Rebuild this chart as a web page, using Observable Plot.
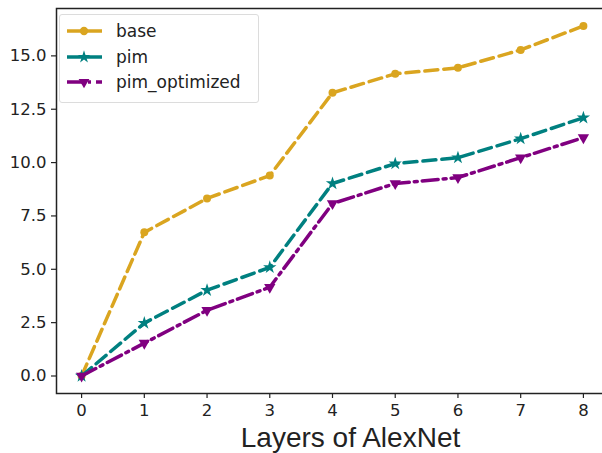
<!DOCTYPE html>
<html>
<head>
<meta charset="utf-8">
<script src="https://cdn.jsdelivr.net/npm/d3@7"></script>
<script src="https://cdn.jsdelivr.net/npm/@observablehq/plot@0.6"></script>
<style>
  html, body { margin: 0; padding: 0; background: #fff; overflow: hidden; }
  #wrap { position: relative; width: 602px; height: 453px; overflow: hidden; }
  #legend {
    position: absolute; left: 59px; top: 14px; width: 198px; height: 87px;
    border: 1px solid #dcdcdc; border-radius: 3px; background: rgba(255,255,255,0.85);
    font-family: "DejaVu Sans", sans-serif; font-size: 17px; color: #222;
  }
  .entry { position: absolute; left: 6px; height: 20px; display: flex; align-items: center; }
  .entry span { margin-left: 14px; }
</style>
</head>
<body>
<div id="wrap"></div>
<script>
const layers = [0, 1, 2, 3, 4, 5, 6, 7, 8];
const base = [0, 6.73, 8.32, 9.39, 13.27, 14.16, 14.44, 15.28, 16.40];
const pim = [0, 2.48, 4.02, 5.09, 9.02, 9.95, 10.23, 11.12, 12.10];
const pimOptimized = [0, 1.54, 3.08, 4.16, 8.08, 9.02, 9.30, 10.23, 11.17];
const yTicks = [0, 2.5, 5, 7.5, 10, 12.5, 15];
const seriesNames = ["base", "pim", "pim_optimized"];
const xLabel = "Layers of AlexNet";
const xDomain = [-0.4, 8.4];
const yDomain = [-0.82, 17.22];

const styles = {
  base: {color: "#DAA520", dash: "13,6", symbol: "circle", rotate: 0, r: 4},
  pim: {color: "#008080", dash: "13,6", symbol: "star", rotate: 0, r: 4.2},
  pim_optimized: {color: "#800080", dash: "16,5,3,5", symbol: "triangle", rotate: 180, r: 4.2}
};
const values = {base, pim, pim_optimized: pimOptimized};
const data = seriesNames.flatMap(s => layers.map((l, i) => ({series: s, layer: l, value: values[s][i]})));

const marks = [];
for (const s of seriesNames) {
  const st = styles[s];
  const d = data.filter(r => r.series === s);
  marks.push(Plot.line(d, {x: "layer", y: "value", stroke: st.color, strokeWidth: 3.5, strokeDasharray: st.dash}));
  marks.push(Plot.dot(d, {x: "layer", y: "value", fill: st.color, stroke: "none", r: st.r, symbol: st.symbol, rotate: st.rotate}));
}

const chart = Plot.plot({
  width: 624, height: 453,
  marginLeft: 56, marginTop: 8, marginBottom: 60, marginRight: 16,
  style: {fontFamily: "DejaVu Sans, sans-serif", color: "#222", background: "white", maxWidth: "none"},
  x: {domain: xDomain},
  y: {domain: yDomain},
  marks: [
    Plot.axisY({ticks: yTicks, tickFormat: d => d.toFixed(1), tickSize: 5, tickPadding: 5, fontSize: 16.5, label: null, stroke: "#222", strokeWidth: 1.2}),
    Plot.axisX({ticks: layers, tickFormat: d => String(d), tickSize: 5, tickPadding: 6, fontSize: 16.5, label: null, stroke: "#222", strokeWidth: 1.2}),
    ...marks,
    Plot.frame({stroke: "#222", strokeWidth: 1.5}),
    Plot.text([xLabel], {frameAnchor: "bottom", dx: 18, dy: 53, text: d => d, fontSize: 28, fontFamily: "Liberation Sans, Arial, sans-serif", fill: "#222"})
  ]
});
const wrap = document.getElementById("wrap");
wrap.appendChild(chart);

// legend
const legend = document.createElement("div");
legend.id = "legend";
const ns = "http://www.w3.org/2000/svg";
seriesNames.forEach((s, i) => {
  const st = styles[s];
  const e = document.createElement("div");
  e.className = "entry";
  e.style.top = (6 + i * 25.5) + "px";
  const svg = document.createElementNS(ns, "svg");
  svg.setAttribute("width", 36); svg.setAttribute("height", 20);
  const line = document.createElementNS(ns, "line");
  line.setAttribute("x1", 1); line.setAttribute("x2", 36); line.setAttribute("y1", 10); line.setAttribute("y2", 10);
  line.setAttribute("stroke", st.color); line.setAttribute("stroke-width", 3.5);
  line.setAttribute("stroke-dasharray", s === "pim_optimized" ? "16,5,3,5" : "none");
  svg.appendChild(line);
  const sym = d3.symbol().type(st.symbol === "circle" ? d3.symbolCircle : st.symbol === "star" ? d3.symbolStar : d3.symbolTriangle).size(st.symbol === "circle" ? 55 : 50);
  const p = document.createElementNS(ns, "path");
  p.setAttribute("d", sym());
  p.setAttribute("fill", st.color);
  p.setAttribute("transform", `translate(18,10) rotate(${st.rotate})`);
  svg.appendChild(p);
  e.appendChild(svg);
  const t = document.createElement("span");
  t.textContent = s;
  e.appendChild(t);
  legend.appendChild(e);
});
wrap.appendChild(legend);
</script>
</body>
</html>
